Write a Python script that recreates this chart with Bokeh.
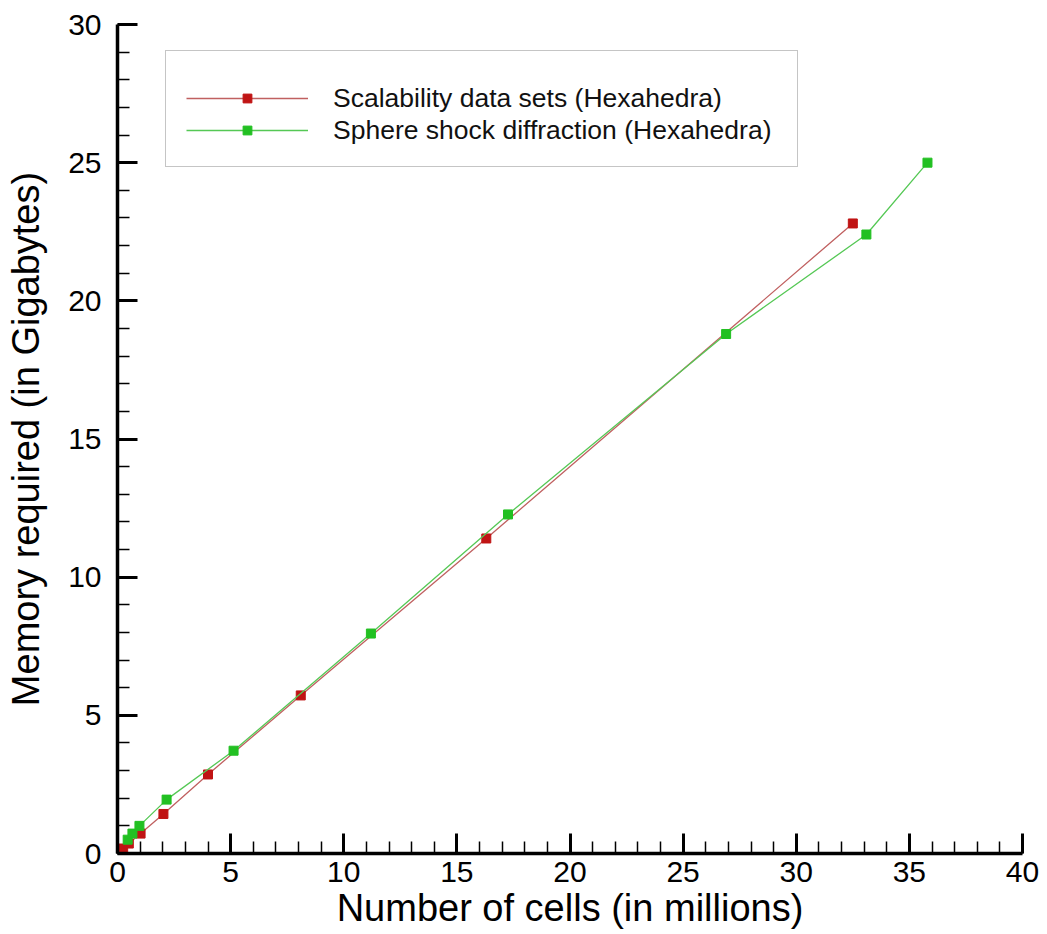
from bokeh.plotting import figure
from bokeh.models import Range1d, SingleIntervalTicker, Legend, LegendItem
from bokeh.embed import file_html
from bokeh.resources import INLINE

# Data
red_x = [0.06, 0.13, 0.25, 0.5, 1.02, 2.03, 4.0, 8.1, 16.3, 32.5]
red_y = [0.04, 0.09, 0.18, 0.36, 0.72, 1.43, 2.86, 5.72, 11.4, 22.8]
green_x = [0.45, 0.66, 0.97, 2.17, 5.13, 11.2, 17.26, 26.9, 33.1, 35.8]
green_y = [0.5, 0.72, 1.0, 1.95, 3.72, 7.96, 12.27, 18.8, 22.4, 25.0]
red_label = "Scalability data sets (Hexahedra)"
green_label = "Sphere shock diffraction (Hexahedra)"
x_title = "Number of cells (in millions)"
y_title = "Memory required (in Gigabytes)"

FONT = "Liberation Sans"

p = figure(width=1047, height=934, output_backend="svg", toolbar_location=None,
           x_range=Range1d(0, 40), y_range=Range1d(0, 30),
           min_border_left=117, min_border_right=25, min_border_top=24, min_border_bottom=81)
p.outline_line_color = None
p.grid.visible = False
p.background_fill_color = "white"

for ax in (p.xaxis[0], p.yaxis[0]):
    ax.ticker = SingleIntervalTicker(interval=5, num_minor_ticks=5)
    ax.axis_line_width = 3.5
    ax.axis_line_color = "black"
    ax.major_tick_in = 20
    ax.major_tick_out = 0
    ax.minor_tick_in = 12
    ax.minor_tick_out = 0
    ax.major_tick_line_width = 3
    ax.minor_tick_line_width = 1.5
    ax.major_label_text_font = FONT
    ax.major_label_text_font_size = "30px"
    ax.major_label_text_color = "black"
    ax.axis_label_text_font = FONT
    ax.axis_label_text_font_size = "38px"
    ax.axis_label_text_font_style = "normal"
    ax.axis_label_text_color = "black"

p.xaxis.axis_label = x_title
p.yaxis.axis_label = y_title
p.xaxis.major_label_standoff = 8
p.xaxis.axis_label_standoff = 2
p.yaxis.major_label_standoff = 16
p.yaxis.axis_label_standoff = 18

r_line = p.line(red_x, red_y, line_color="#c06060", line_width=1.3)
r_pts = p.scatter(red_x, red_y, marker="square", size=9, fill_color="#c01414", line_color="#c01414")
g_line = p.line(green_x, green_y, line_color="#55c855", line_width=1.3)
g_pts = p.scatter(green_x, green_y, marker="square", size=9, fill_color="#22c022", line_color="#22c022")

legend = Legend(items=[LegendItem(label=red_label, renderers=[r_line, r_pts]),
                       LegendItem(label=green_label, renderers=[g_line, g_pts])],
                location=(48, 686), padding=20, spacing=0,
                glyph_width=122, glyph_height=22, label_height=32, label_width=444,
                label_standoff=25, label_text_font=FONT, label_text_font_size="26.5px",
                label_text_color="#111111",
                title=" ", title_text_font_size="8px", title_standoff=2,
                border_line_color="#8c8c8c", border_line_width=1.5,
                background_fill_color="white", background_fill_alpha=1.0,
                margin=0)
p.add_layout(legend, "center")

open("out.html", "w").write(file_html(p, INLINE))
